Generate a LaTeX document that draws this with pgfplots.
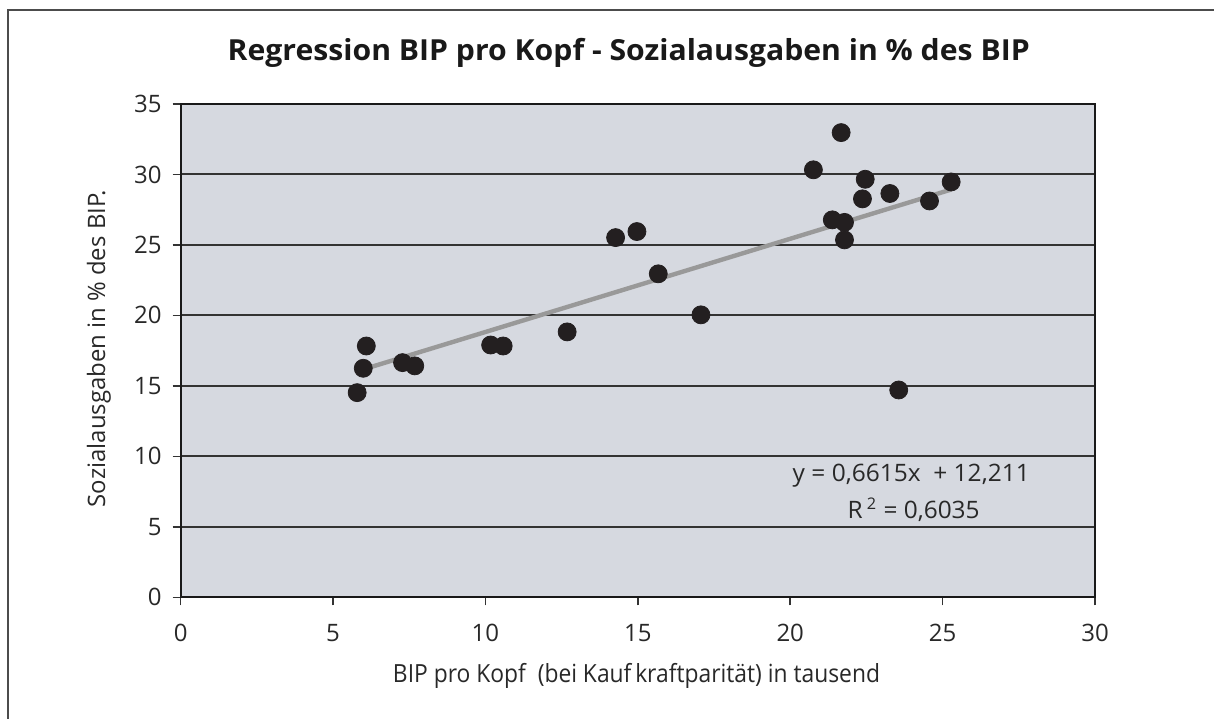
\documentclass[border=0pt]{standalone}
\usepackage{fontspec}
\setmainfont{Open Sans}
\usepackage{graphicx}
\usepackage{pgfplots}
\pgfplotsset{compat=1.18}
\definecolor{bgc}{RGB}{214,217,224}
\definecolor{mk}{RGB}{35,31,32}
\definecolor{tl}{RGB}{153,153,153}
\definecolor{txt}{RGB}{40,40,40}

\pgfplotstableread{
x y
5.79 14.52
5.99 16.25
6.09 17.83
7.28 16.65
7.68 16.42
10.17 17.90
10.58 17.83
12.68 18.83
14.27 25.52
14.97 25.95
15.67 22.95
17.07 20.04
20.76 30.33
21.67 32.97
21.38 26.78
21.78 26.60
21.78 25.36
22.46 29.66
22.37 28.27
23.27 28.65
23.56 14.71
24.57 28.12
25.28 29.47
}\datatab

\begin{document}
\begin{tikzpicture}
\useasboundingbox (0,0) rectangle (607pt,359pt);
\draw[line width=1pt, color=black!70] (4pt,-2pt) -- (4pt,354pt) -- (610pt,354pt);
\begin{axis}[
  at={(90.35pt,60.35pt)}, anchor=south west,
  scale only axis, width=457.15pt, height=246.65pt,
  xmin=0, xmax=30, ymin=0, ymax=35,
  xtick={0,5,...,30}, ytick={0,5,...,35},
  tick align=outside, xtick pos=left, ytick pos=left,
  major tick length=4pt,
  ymajorgrids,
  grid style={line width=1pt, color=black!80},
  axis line style={line width=1.1pt, color=black!90},
  tick style={line width=0.75pt, color=black!80},
  axis background/.style={fill=bgc},
  ticklabel style={font=\fontsize{12}{14}\selectfont, color=txt},
  /pgf/number format/assume math mode=true,
  xticklabel style={yshift=-6pt},
  yticklabel style={xshift=-2pt},
  clip=false,
]
\addplot[only marks, mark=*, mark size=4.5pt, mark options={fill=mk, draw=mk}] table[x=x,y=y] {\datatab};
\addplot[color=tl, line width=2.2pt] coordinates {(5.79,16.04) (25.28,28.93)};

\node[anchor=base, font=\fontsize{14.5}{16}\selectfont\bfseries, color=black!90] at (rel axis cs:0.490,1.089)
  {\resizebox{401pt}{\height}{Regression BIP pro Kopf - Sozialausgaben in \% des BIP}};
\node[anchor=base, font=\fontsize{12.5}{14}\selectfont, color=txt] at (rel axis cs:0.4985,-0.1737)
  {\resizebox{243.5pt}{\height}{BIP pro Kopf\ \ (bei Kauf\,kraftparität) in tausend}};
\node[anchor=base, rotate=90, font=\fontsize{12}{14}\selectfont, color=txt] at (rel axis cs:-0.0828,0.504)
  {\resizebox{158.5pt}{\height}{Sozialausgaben in \% des BIP.}};
\node[anchor=base, font=\fontsize{12}{14}\selectfont, color=txt] at (axis cs:23.97,8.20)
  {\resizebox{118.5pt}{\height}{y = 0,6615x\ \ + 12,211}};
\node[anchor=base, font=\fontsize{12}{14}\selectfont, color=txt] at (axis cs:24.05,5.61)
  {\resizebox{66pt}{\height}{R\,\textsuperscript{2} = 0,6035}};
\end{axis}
\end{tikzpicture}
\end{document}
